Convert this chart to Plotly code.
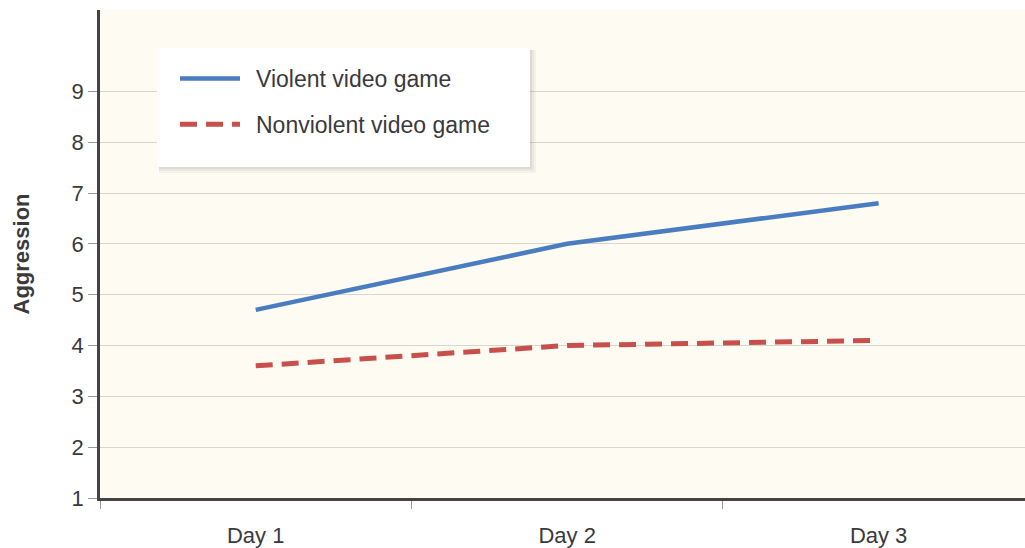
import plotly.graph_objects as go

days = ["Day 1", "Day 2", "Day 3"]
violent = [4.7, 6.0, 6.8]
nonviolent = [3.6, 4.0, 4.1]
y_ticks = [1, 2, 3, 4, 5, 6, 7, 8, 9]
series_names = ["Violent video game", "Nonviolent video game"]

FONT = "Liberation Sans, Arial, Helvetica, sans-serif"
TXT = "#3a3a3a"
PAD = "\u00a0\u2009"

fig = go.Figure()
fig.add_trace(go.Scatter(
    x=days, y=violent, mode="lines", name=PAD + series_names[0],
    line=dict(color="#4A7CC0", width=4.5), legendgroup="a",
))
fig.add_trace(go.Scatter(
    x=days, y=nonviolent, mode="lines", name=PAD + series_names[1],
    line=dict(color="#C8504C", width=5, dash="17px,9px"), legendgroup="b",
))

PW, PH = 925, 488
# legend box with soft shadow
for i, op in enumerate([0.035, 0.045, 0.055]):
    d = (3 - i) * 2
    fig.add_shape(type="rect", xref="paper", yref="paper",
                  x0=(157 - 100 + 2) / PW, x1=(530 - 100 + d) / PW,
                  y0=(498 - 167 - d) / PH, y1=(498 - 48 - 2) / PH,
                  fillcolor=f"rgba(0,0,0,{op})", line=dict(width=0), layer="above")
fig.add_shape(type="rect", xref="paper", yref="paper",
              x0=(157 - 100) / PW, x1=(530 - 100) / PW,
              y0=(498 - 167) / PH, y1=(498 - 48) / PH,
              fillcolor="white", line=dict(width=0), layer="above")

fig.update_layout(
    width=1025, height=548,
    margin=dict(l=100, r=0, t=10, b=50, autoexpand=False),
    paper_bgcolor="white",
    plot_bgcolor="#FDFBF2",
    font=dict(family=FONT, size=22, color=TXT),
    showlegend=True,
    legend=dict(
        x=(175 - 100) / PW, y=(498 - 57) / PH, xanchor="left", yanchor="top",
        bgcolor="rgba(0,0,0,0)", borderwidth=0,
        font=dict(family=FONT, size=23, color=TXT),
        traceorder="grouped", tracegroupgap=13, itemwidth=60,
    ),
    xaxis=dict(
        type="category", range=[-0.5, 2.47], automargin=False,
        tickson="boundaries", ticks="outside", ticklen=8, tickcolor="#999999",
        ticklabelstandoff=16,
        showgrid=False, showline=True, linecolor="#444444", linewidth=2.5,
        zeroline=False, tickfont=dict(size=22, color=TXT),
    ),
    yaxis=dict(
        range=[1, 10.6], tickvals=y_ticks, ticks="outside", ticklen=9, automargin=False,
        tickcolor="#999999", showgrid=True, gridcolor="#D9D6CE", gridwidth=1.2,
        showline=True, linecolor="#444444", linewidth=2.5, zeroline=False,
        tickfont=dict(size=22, color=TXT),
        title=dict(text="<b>Aggression</b>", font=dict(size=22, color=TXT), standoff=36),
    ),
)

fig.write_html(
    "out.html",
    config={"responsive": False, "displayModeBar": False},
    post_script="document.body.style.margin='0';document.body.style.overflow='hidden';",
)
